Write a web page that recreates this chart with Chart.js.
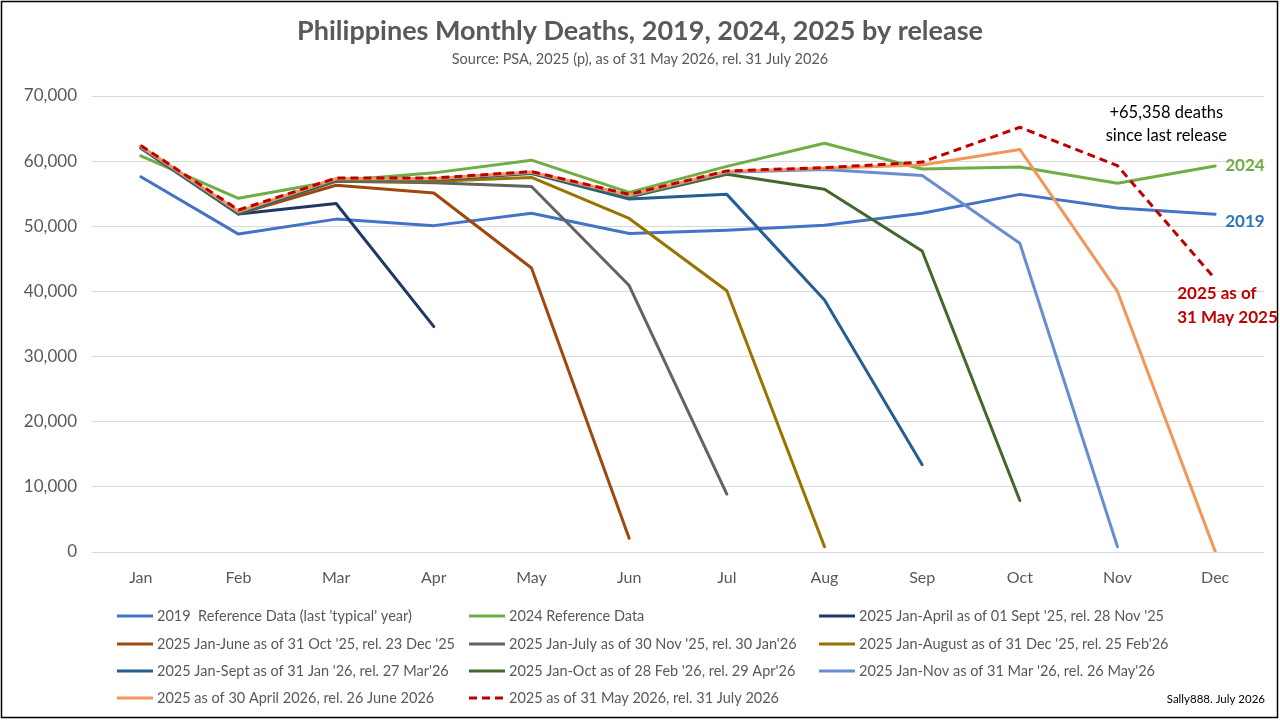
<!DOCTYPE html>
<html lang="en">
  <head>
    <title>Philippines Monthly Deaths</title>
    <meta charset="utf-8" />
    <script src="https://cdn.jsdelivr.net/npm/chart.js"></script>
    <style>
      body {
        margin: 0;
        background: #fff;
      }
      .wrap {
        width: 1280px;
        height: 720px;
        position: relative;
      }
    </style>
  </head>
  <body>
    <div class="wrap"><canvas id="deaths-chart"></canvas></div>

    <script>
      // data
      const months = ["Jan", "Feb", "Mar", "Apr", "May", "Jun", "Jul", "Aug", "Sep", "Oct", "Nov", "Dec"];
      const yTicks = [0, 10000, 20000, 30000, 40000, 50000, 60000, 70000];

      const deaths2019 = [57600, 48800, 51100, 50100, 52000, 48900, 49400, 50150, 52000, 54900, 52800, 51850];
      const deaths2024 = [60800, 54300, 57000, 58200, 60150, 55200, 59200, 62750, 58800, 59100, 56600, 59250];

      const relApr = [62000, 51900, 53500, 34600, null, null, null, null, null, null, null, null];
      const relJun = [62000, 51900, 56300, 55100, 43600, 2100, null, null, null, null, null, null];
      const relJul = [62000, 51900, 56900, 56700, 56100, 40900, 8900, null, null, null, null, null];
      const relAug = [62100, 52000, 57000, 56900, 57500, 51200, 40100, 800, null, null, null, null];
      const relSep = [62100, 52000, 57100, 57100, 58100, 54200, 54900, 38700, 13400, null, null, null];
      const relOct = [62200, 52100, 57200, 57200, 58200, 54500, 58000, 55700, 46200, 7900, null, null];
      const relNov = [62200, 52200, 57300, 57300, 58300, 54700, 58300, 58700, 57800, 47400, 800, null];
      const relApr26 = [62300, 52300, 57300, 57300, 58300, 54800, 58400, 58900, 59400, 61800, 40000, 100];
      const relMay26 = [62400, 52500, 57400, 57400, 58400, 54900, 58500, 59000, 59850, 65200, 59300, 41900];

      const seriesNames = [
        "2019  Reference Data (last 'typical' year)",
        "2024 Reference Data",
        "2025 Jan-April as of 01 Sept '25, rel. 28 Nov '25",
        "2025 Jan-June as of 31 Oct '25, rel. 23 Dec '25",
        "2025 Jan-July as of 30 Nov '25, rel. 30 Jan'26",
        "2025 Jan-August as of 31 Dec '25, rel. 25 Feb'26",
        "2025 Jan-Sept as of 31 Jan '26, rel. 27 Mar'26",
        "2025 Jan-Oct as of 28 Feb '26, rel. 29 Apr'26",
        "2025 Jan-Nov as of 31 Mar '26, rel. 26 May'26",
        "2025 as of 30 April 2026, rel. 26 June 2026",
        "2025 as of 31 May 2026, rel. 31 July 2026",
      ];
      const seriesData = [deaths2019, deaths2024, relApr, relJun, relJul, relAug, relSep, relOct, relNov, relApr26, relMay26];
      const seriesColors = ["#4472C4", "#70AD47", "#203864", "#9E480E", "#636363", "#997300", "#255E91", "#43682B", "#698ED0", "#F1975A", "#C00000"];

      const FONT = "Lato, 'Open Sans', sans-serif";
      const GREY = "#595959";

      const datasets = seriesData.map((d, i) => ({
        label: seriesNames[i],
        data: d,
        borderColor: seriesColors[i],
        backgroundColor: seriesColors[i],
        borderWidth: 3,
        borderDash: i === 10 ? [8, 5] : [],
        borderCapStyle: i === 10 ? "butt" : "round",
        borderJoinStyle: "round",
        pointRadius: 0,
        pointHoverRadius: 0,
        tension: 0,
        spanGaps: false,
        order: seriesData.length - i, // later releases on top, like excel
      }));

      // title, frame, legend grid and text labels
      const decorations = {
        id: "decorations",
        afterDatasetsDraw(chart) {
          const ctx = chart.ctx;
          const x = chart.scales.x;
          const y = chart.scales.y;
          const xNov = x.getPixelForValue(10);
          const xDec = x.getPixelForValue(11);
          ctx.save();
          ctx.textBaseline = "middle";

          // right side labels
          ctx.font = "bold 17px " + FONT;
          ctx.textAlign = "left";
          ctx.fillStyle = "#70AD47";
          ctx.fillText("2024", xDec + 10, y.getPixelForValue(deaths2024[11]) - 1);
          ctx.fillStyle = "#2E75B6";
          ctx.fillText("2019", xDec + 10, y.getPixelForValue(deaths2019[11]) + 7);
          ctx.fillStyle = "#C00000";
          const yRed = y.getPixelForValue(relMay26[11]);
          ctx.fillText("2025 as of", xDec - 38, yRed + 14);
          ctx.fillText("31 May 2025", xDec - 38, yRed + 38);

          ctx.font = "16.5px " + FONT;
          ctx.fillStyle = "#000";
          ctx.textAlign = "center";
          const xMid = (xNov + xDec) / 2;
          ctx.fillText("+65,358 deaths", xMid, chart.chartArea.top + 17);
          ctx.fillText("since last release", xMid, chart.chartArea.top + 40);
          ctx.restore();
        },
        afterDraw(chart) {
          const ctx = chart.ctx;
          ctx.save();
          ctx.fillStyle = GREY;
          ctx.textAlign = "center";
          ctx.textBaseline = "middle";
          ctx.font = "bold 27px " + FONT;
          ctx.fillText("Philippines Monthly Deaths, 2019, 2024, 2025 by release", 640, 31);
          ctx.font = "14.5px " + FONT;
          ctx.fillText("Source: PSA, 2025 (p), as of 31 May 2026, rel. 31 July 2026", 640, 59);

          // legend, 3 columns like the original
          const colX = [117, 469, 819];
          const rowY = [616, 644, 671, 698];
          ctx.textAlign = "left";
          ctx.font = "14.5px " + FONT;
          chart.data.datasets.forEach((ds, i) => {
            const lx = colX[i % 3];
            const ly = rowY[Math.floor(i / 3)];
            ctx.beginPath();
            ctx.strokeStyle = ds.borderColor;
            ctx.lineWidth = 3;
            ctx.setLineDash(ds.borderDash);
            ctx.moveTo(lx, ly);
            ctx.lineTo(lx + 36, ly);
            ctx.stroke();
            ctx.setLineDash([]);
            ctx.fillStyle = GREY;
            ctx.fillText(ds.label, lx + 40, ly);
          });

          ctx.font = "11.5px " + FONT;
          ctx.fillStyle = "#000";
          ctx.textAlign = "right";
          ctx.fillText("Sally888. July 2026", 1265, 699);

          ctx.strokeStyle = "#000";
          ctx.lineWidth = 1.5;
          ctx.strokeRect(1.5, 1.5, 1276, 716);
          ctx.restore();
        },
      };

      new Chart(document.getElementById("deaths-chart"), {
        type: "line",
        data: { labels: months, datasets: datasets },
        options: {
          responsive: true,
          maintainAspectRatio: false,
          animation: false,
          events: [],
          layout: { padding: { top: 96, right: 16, bottom: 128, left: 0 } },
          plugins: {
            legend: { display: false },
            title: { display: false },
            tooltip: { enabled: false },
          },
          scales: {
            x: {
              offset: true,
              grid: { display: false, drawTicks: false },
              border: { display: false },
              ticks: { color: GREY, font: { family: FONT, size: 16 }, padding: 16 },
              afterFit: (s) => {
                s.height = 40;
              },
            },
            y: {
              min: 0,
              max: 70000,
              afterBuildTicks: (s) => {
                s.ticks = yTicks.map((v) => ({ value: v }));
              },
              grid: { color: "#D9D9D9", lineWidth: 1, drawTicks: false },
              border: { display: false },
              ticks: {
                color: GREY,
                font: { family: FONT, size: 17 },
                padding: 15,
                callback: (v) => v.toLocaleString("en-US"),
              },
              afterFit: (s) => {
                s.width = 92;
              },
            },
          },
        },
        plugins: [decorations],
      });
    </script>
  </body>
</html>
